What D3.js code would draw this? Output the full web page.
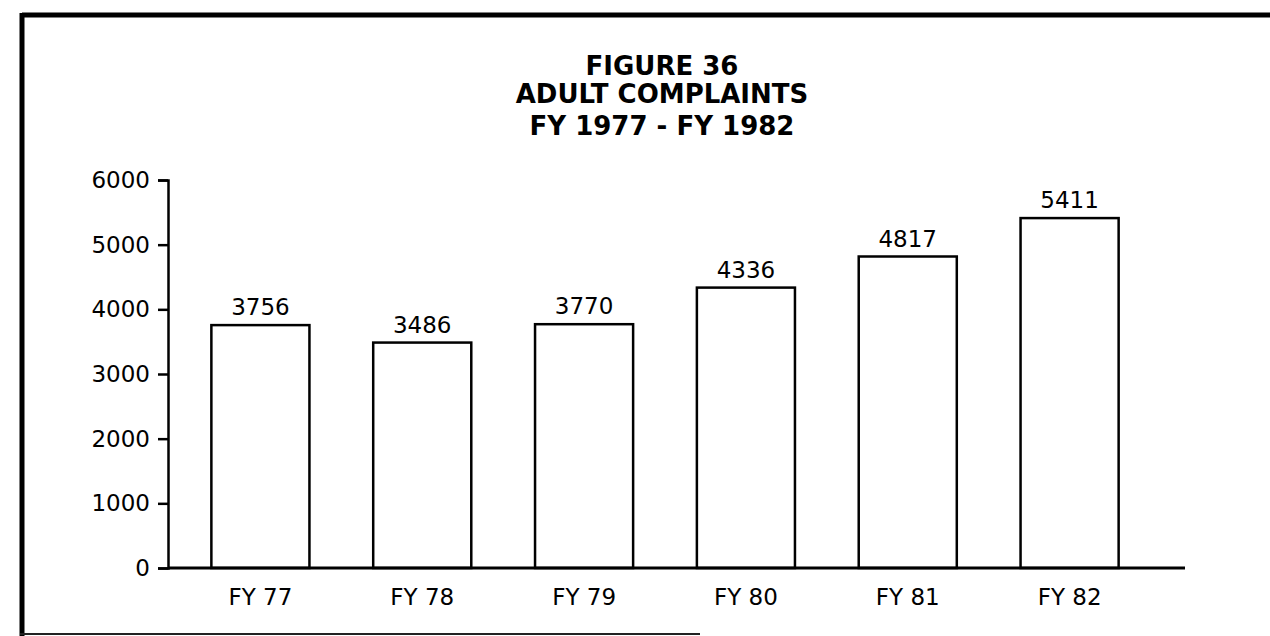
<!DOCTYPE html>
<html>
<head>
<meta charset="utf-8">
<script src="https://cdn.jsdelivr.net/npm/d3@7"></script>
<style>
  body { margin: 0; background: #fff; }
  svg { display: block; font-family: "DejaVu Sans", sans-serif; }
</style>
</head>
<body>
<div id="chart"></div>
<script>
const categories = ["FY 77", "FY 78", "FY 79", "FY 80", "FY 81", "FY 82"];
const complaints = [3756, 3486, 3770, 4336, 4817, 5411];
const yTicks = [0, 1000, 2000, 3000, 4000, 5000, 6000];
const titleLines = ["FIGURE 36", "ADULT COMPLAINTS", "FY 1977 - FY 1982"];

const w = 1270;
const h = 636;

const svg = d3.select("#chart")
	.append("svg")
	.attr("width", w)
	.attr("height", h)
	.attr("viewBox", [0, 0, w, h]);

// page frame
svg.append("line")
	.attr("x1", 22).attr("x2", 1270)
	.attr("y1", 15).attr("y2", 15)
	.attr("stroke", "#000").attr("stroke-width", 5);
svg.append("line")
	.attr("x1", 22).attr("x2", 22)
	.attr("y1", 13).attr("y2", 636)
	.attr("stroke", "#000").attr("stroke-width", 5);
svg.append("line")
	.attr("x1", 20).attr("x2", 700)
	.attr("y1", 634).attr("y2", 634)
	.attr("stroke", "#222").attr("stroke-width", 2);

// title
svg.append("g")
	.attr("font-weight", "bold")
	.attr("font-size", "26px")
	.attr("text-anchor", "middle")
	.selectAll("text")
	.data(titleLines)
	.join("text")
		.attr("x", 662)
		.attr("y", (d, i) => [75, 103, 135][i])
		.text(d => d);

const x = d3.scaleBand()
	.domain(categories)
	.range([179, 1151])
	.paddingInner(0.394)
	.paddingOuter(0.2);

const y = d3.scaleLinear()
	.domain([0, 6000])
	.range([568, 180]);

// bars
svg.append("g")
	.attr("fill", "#fff")
	.attr("stroke", "#000")
	.attr("stroke-width", 2.5)
	.selectAll("rect")
	.data(complaints)
	.join("rect")
		.attr("x", (d, i) => x(categories[i]))
		.attr("y", d => y(d))
		.attr("width", x.bandwidth())
		.attr("height", d => y(0) - y(d));

// value labels
svg.append("g")
	.attr("font-size", "23px")
	.attr("text-anchor", "middle")
	.selectAll("text")
	.data(complaints)
	.join("text")
		.attr("x", (d, i) => x(categories[i]) + x.bandwidth() / 2)
		.attr("y", d => y(d) - 10)
		.text(d => d);

//axes

function yAxis(g) {
	g.attr("transform", "translate(168, 0)")
	.call(d3.axisLeft(y).tickValues(yTicks).tickSize(10).tickPadding(8).tickFormat(d3.format("d")))
	.attr("font-size", "23px")
	.attr("font-family", "DejaVu Sans, sans-serif")
	g.selectAll("path, line").attr("stroke", "#000").attr("stroke-width", 2.5);
	g.selectAll("text").attr("fill", "#000");
}

function xAxis(g) {
	g.attr("transform", `translate(0, ${y(0)})`)
	.call(d3.axisBottom(x).tickSize(0).tickPadding(21))
	.attr("font-size", "23px")
	.attr("font-family", "DejaVu Sans, sans-serif")
	g.select(".domain").remove();
	g.selectAll("text").attr("fill", "#000");
}

svg.append("g").call(xAxis);

// baseline
svg.append("line")
	.attr("x1", 168).attr("x2", 1185)
	.attr("y1", y(0)).attr("y2", y(0))
	.attr("stroke", "#000").attr("stroke-width", 3);

svg.append("g").call(yAxis);
</script>
</body>
</html>
